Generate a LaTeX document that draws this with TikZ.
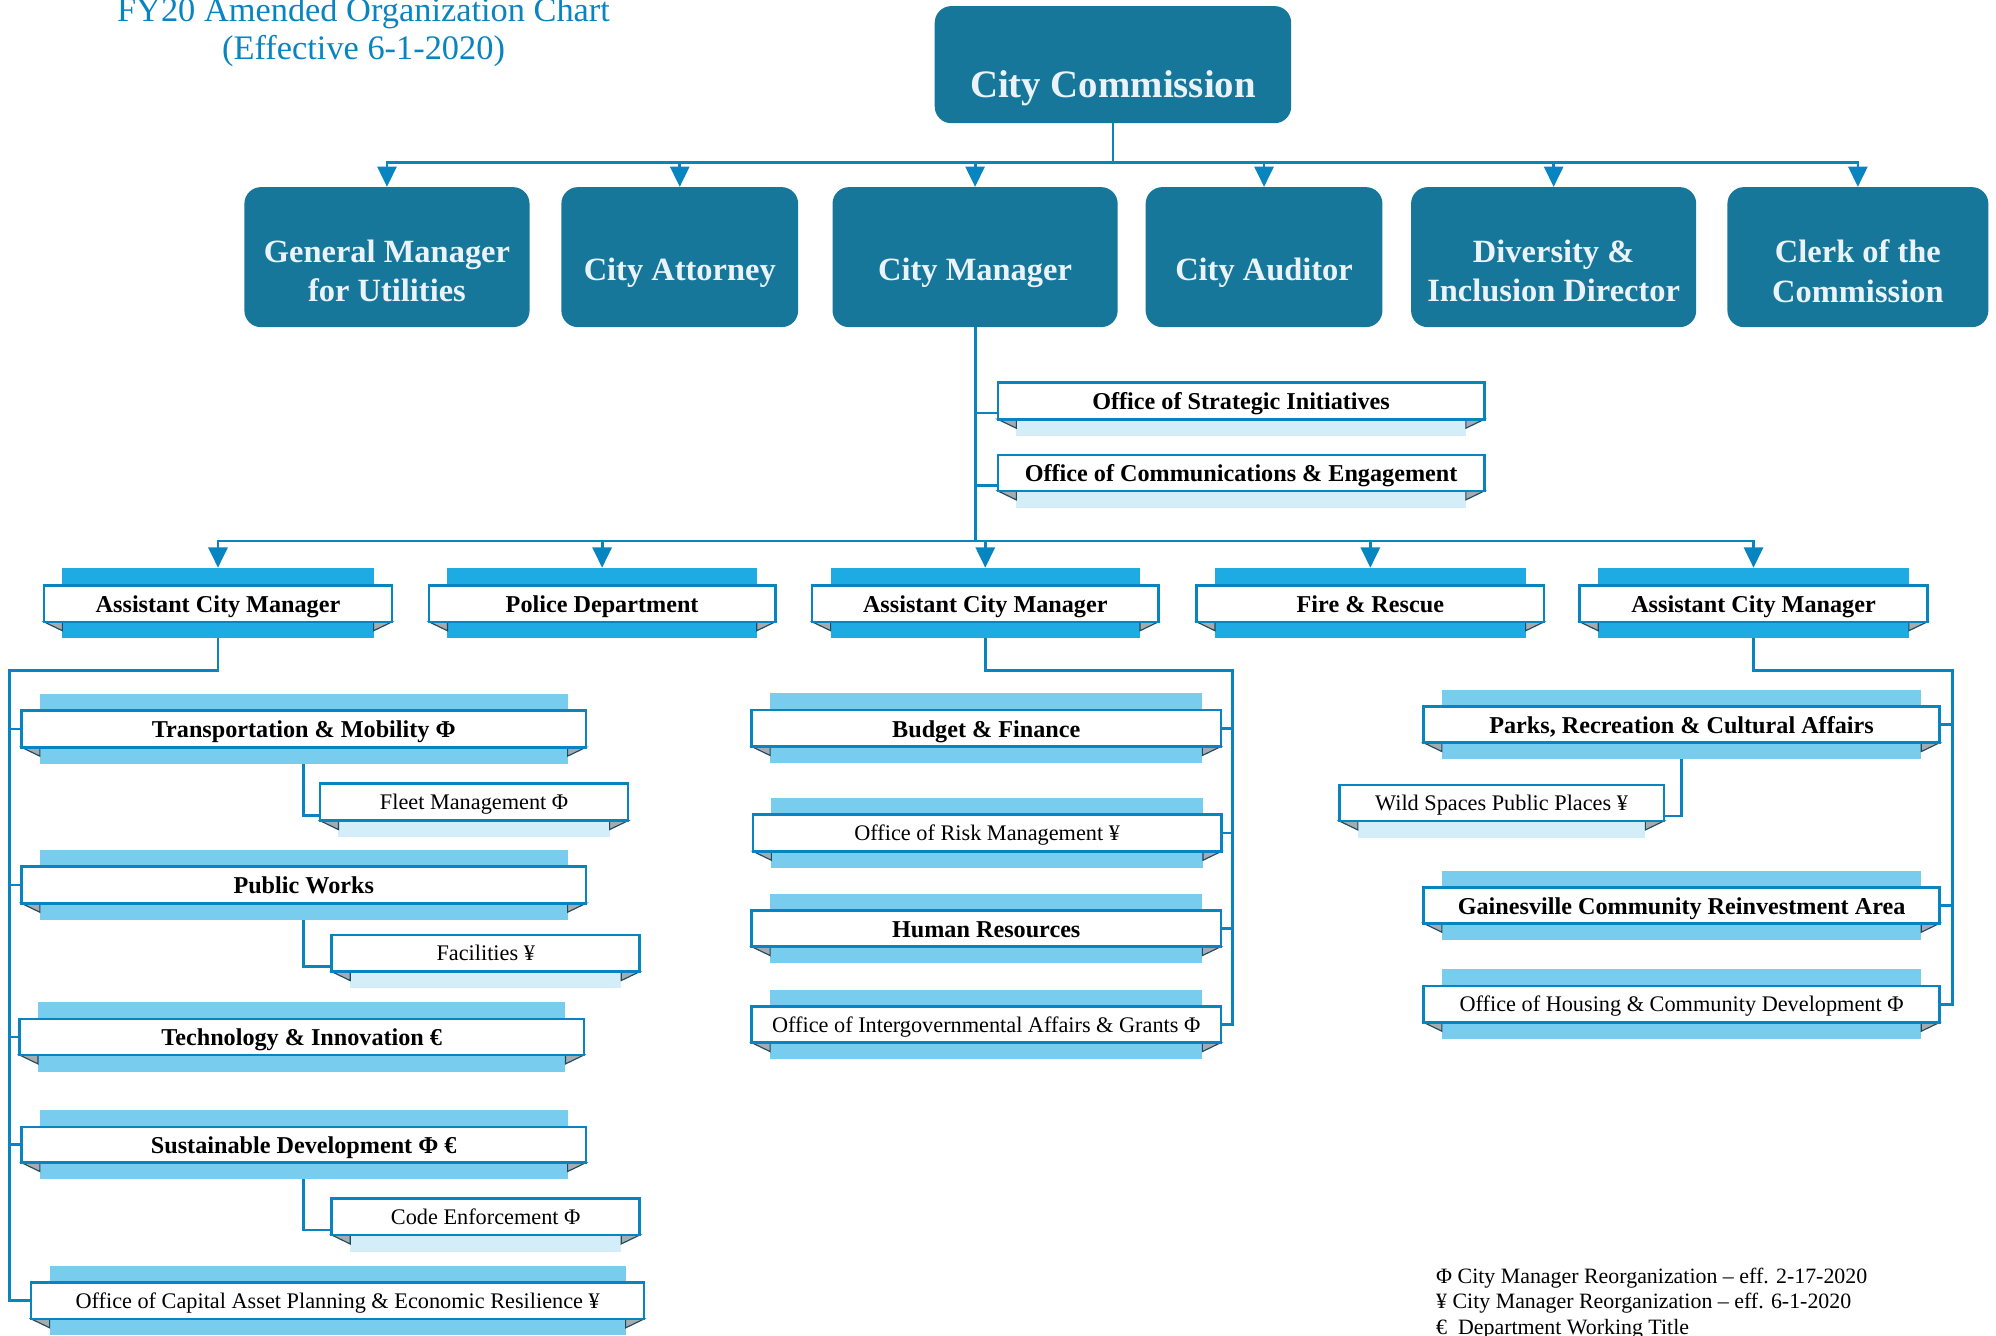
\documentclass[tikz,border=0pt]{standalone}
\usepackage{fontspec}
\setmainfont{Liberation Serif}
\usetikzlibrary{arrows.meta,calc}
\definecolor{topfill}{RGB}{22,119,155}
\definecolor{toptext}{RGB}{235,243,250}
\definecolor{lineblue}{RGB}{8,132,192}
\definecolor{bandA}{RGB}{30,170,226}
\definecolor{bandB}{RGB}{120,205,238}
\definecolor{bandC}{RGB}{211,238,249}
\definecolor{foldfill}{RGB}{165,172,176}
\definecolor{folddraw}{RGB}{30,75,95}
\tikzset{
  topbox/.style={fill=topfill, rounded corners=13pt, inner sep=0pt},
  toplabel/.style={text=toptext, font=\fontsize{25.5}{31}\selectfont\bfseries, align=center, inner sep=0pt},
  front/.style={draw=lineblue, line width=2pt, fill=white, inner sep=0pt},
  bt/.style={font=\fontsize{19}{22}\selectfont\bfseries, text height=17pt, text depth=3pt},
  rt/.style={font=\fontsize{17.5}{20}\selectfont, text height=15pt, text depth=3pt},
  conn/.style={draw=lineblue, line width=2.2pt},
  arr/.style={conn, -{Triangle[width=15pt,length=16pt]}},
  legend/.style={font=\fontsize{17.2}{20}\selectfont, anchor=base west, inner sep=0pt},
  titletext/.style={font=\fontsize{27}{30}\selectfont, text=lineblue, anchor=base, inner sep=0pt},
}
% name x1 y1 x2 y2 bandcolour topext textstyle text
\newcommand{\rib}[9]{%
  \pgfmathsetmacro{\RBxa}{#2+14.5}%
  \pgfmathsetmacro{\RBxb}{#4-14.5}%
  \pgfmathsetmacro{\RBc}{(#2+#4)/2}%
  \pgfmathsetmacro{\RBd}{(#3+#5)/2}%
  \pgfmathsetmacro{\RBw}{#4-#2}%
  \pgfmathsetmacro{\RBh}{#5-#3}%
  \pgfmathsetmacro{\RBt}{#3-#7}%
  \pgfmathsetmacro{\RBbb}{#5+13}%
  \pgfmathsetmacro{\RBf}{#5+7}%
  \fill[#6] (\RBxa,\RBt) rectangle (\RBxb,\RBbb);
  \filldraw[fill=foldfill, draw=folddraw, line width=0.9pt] (#2,#5) -- (\RBxa,#5) -- (\RBxa,\RBf) -- cycle;
  \filldraw[fill=foldfill, draw=folddraw, line width=0.9pt] (#4,#5) -- (\RBxb,#5) -- (\RBxb,\RBf) -- cycle;
  \node[front, #8, minimum width=\RBw pt, minimum height=\RBh pt] (#1) at (\RBc,\RBd) {#9};
  \coordinate (#1-top) at (\RBc,\RBt);
  \coordinate (#1-bot) at (\RBc,\RBbb);
}
\begin{document}
\begin{tikzpicture}[x=1pt,y=-1pt]
\useasboundingbox (0,0) rectangle (1568,1048.74);

% title
\node[titletext] (title1) at (285.6,17) {FY20 Amended Organization Chart};
\node[titletext] (title2) at (285.6,47) {(Effective 6-1-2020)};

% top level
\node[topbox, minimum width=280pt, minimum height=92pt] (cc) at (874.3,50.8) {};
\node[toplabel, font=\fontsize{30.5}{36}\selectfont\bfseries] (cct) at (874.3,69) {City Commission};

\node[topbox, minimum width=224pt, minimum height=110pt] (gm) at (304,202) {};
\node[topbox, minimum width=186pt, minimum height=110pt] (ca) at (534,202) {};
\node[topbox, minimum width=224pt, minimum height=110pt] (cm) at (766,202) {};
\node[topbox, minimum width=186pt, minimum height=110pt] (aud) at (993,202) {};
\node[topbox, minimum width=224pt, minimum height=110pt] (div) at (1220.5,202) {};
\node[topbox, minimum width=205pt, minimum height=110pt] (clk) at (1459.5,202) {};

\node[toplabel] (gmt) at (304,213) {General Manager\\for Utilities};
\node[toplabel] (cat) at (534,214) {City Attorney};
\node[toplabel] (cmt) at (766,214) {City Manager};
\node[toplabel] (audt) at (993,214) {City Auditor};
\node[toplabel] (divt) at (1220.5,213) {Diversity \&\\Inclusion Director};
\node[toplabel] (clkt) at (1459.5,213) {Clerk of the\\Commission};

\coordinate (bus) at (874.3,127.5);
\draw[conn] (cc.south) -- (bus);
\draw[conn] ([xshift=-1.1pt]gm.north |- bus) -- ([xshift=1.1pt]clk.north |- bus);
\foreach \n in {gm,ca,cm,aud,div,clk} \draw[arr] (\n.north |- bus) -- (\n.north);

% offices under city manager
\rib{osi}{783.9}{300.6}{1166}{329.4}{bandC}{0}{bt}{Office of Strategic Initiatives}
\rib{oce}{783.9}{357.4}{1166}{385.7}{bandC}{0}{bt}{Office of Communications \& Engagement}

% second row
\rib{acma}{34.5}{460}{308}{488.5}{bandA}{14}{bt}{Assistant City Manager}
\rib{pol}{337}{460}{609}{488.5}{bandA}{14}{bt}{Police Department}
\rib{acmb}{638}{460}{910}{488.5}{bandA}{14}{bt}{Assistant City Manager}
\rib{fire}{940}{460}{1213}{488.5}{bandA}{14}{bt}{Fire \& Rescue}
\rib{acmc}{1241}{460}{1514}{488.5}{bandA}{14}{bt}{Assistant City Manager}

\coordinate (bus2) at (766,425);
\draw[conn] (cm.south) -- (cm.south |- bus2);
\coordinate (osiA) at ($(osi.south west)+(0,-6)$);
\coordinate (oceA) at ($(oce.south west)+(0,-5)$);
\draw[conn] (cm.south |- osiA) -- (osiA);
\draw[conn] (cm.south |- oceA) -- (oceA);
\draw[conn] ([xshift=-1.1pt]acma-top |- bus2) -- ([xshift=1.1pt]acmc-top |- bus2);
\foreach \n in {acma,pol,acmb,fire,acmc} \draw[arr] (\n-top |- bus2) -- (\n-top);

% left column
\rib{tm}{16.8}{558.3}{460.4}{587}{bandB}{13}{bt}{Transportation \& Mobility Φ}
\rib{fleet}{251.4}{615.4}{493.4}{644.7}{bandC}{0}{rt}{Fleet Management Φ}
\rib{pw}{16.8}{680.8}{460.4}{709.6}{bandB}{13}{bt}{Public Works}
\rib{fac}{260.6}{734.5}{502.5}{763.3}{bandC}{0}{rt}{Facilities ¥}
\rib{tech}{15.4}{800.5}{458.7}{828.8}{bandB}{13}{bt}{Technology \& Innovation €}
\rib{sd}{16.8}{885.3}{460.4}{913.3}{bandB}{13}{bt}{Sustainable Development Φ €}
\rib{code}{260.6}{941.6}{502.5}{970.2}{bandC}{0}{rt}{Code Enforcement Φ}
\rib{ocap}{24.5}{1007.6}{506}{1036.1}{bandB}{13}{rt}{Office of Capital Asset Planning \& Economic Resilience ¥}

\coordinate (lbus) at (7.7,526.9);
\draw[conn] (acma-bot) |- (lbus) -- (lbus |- ocap.west) -- (ocap.west);
\foreach \n in {tm,pw,tech,sd} \draw[conn] (lbus |- \n.west) -- (\n.west);
\coordinate (fleetA) at ($(fleet.south west)+(0,-5)$);
\coordinate (facA) at ($(fac.south west)+(0,-5)$);
\coordinate (codeA) at ($(code.south west)+(0,-5)$);
\draw[conn] (tm-bot) |- (fleetA);
\draw[conn] (pw-bot) |- (facA);
\draw[conn] (sd-bot) |- (codeA);

% middle column
\rib{bf}{590.5}{557.7}{959}{586.5}{bandB}{13}{bt}{Budget \& Finance}
\rib{risk}{591.5}{640}{959.5}{668.8}{bandB}{13}{rt}{Office of Risk Management ¥}
\rib{hr}{590.5}{715.4}{959}{743.7}{bandB}{13}{bt}{Human Resources}
\rib{ig}{590.5}{790.8}{959}{819.1}{bandB}{13}{rt}{Office of Intergovernmental Affairs \& Grants Φ}

\coordinate (mbus) at (968,526.9);
\draw[conn] (acmb-bot) |- (mbus) -- (mbus |- ig.east) -- (ig.east);
\foreach \n in {bf,risk,hr} \draw[conn] (mbus |- \n.east) -- (\n.east);

% right column
\rib{parks}{1118.2}{555.1}{1523.8}{583.4}{bandB}{13}{bt}{Parks, Recreation \& Cultural Affairs}
\rib{wild}{1052.2}{616.7}{1307}{645}{bandC}{0}{rt}{Wild Spaces Public Places ¥}
\rib{gcra}{1118.2}{697}{1523.8}{725.3}{bandB}{13}{bt}{Gainesville Community Reinvestment Area}
\rib{hous}{1118.2}{774.6}{1523.8}{803.1}{bandB}{13}{rt}{Office of Housing \& Community Development Φ}

\coordinate (rbus) at (1533.7,526.9);
\draw[conn] (acmc-bot) |- (rbus) -- (rbus |- hous.east) -- (hous.east);
\foreach \n in {parks,gcra} \draw[conn] (rbus |- \n.east) -- (\n.east);
\coordinate (wildA) at ($(wild.south east)+(0,-5)$);
\draw[conn] (parks-bot) |- (wildA);

% legend
\node[legend] (lg1) at (1128,1008) {Φ City Manager Reorganization – eff. 2-17-2020};
\node[legend] (lg2) at (1128,1028) {¥ City Manager Reorganization – eff. 6-1-2020};
\node[legend] (lg3) at (1128,1048) {€\ \ Department Working Title};
\end{tikzpicture}
\end{document}
